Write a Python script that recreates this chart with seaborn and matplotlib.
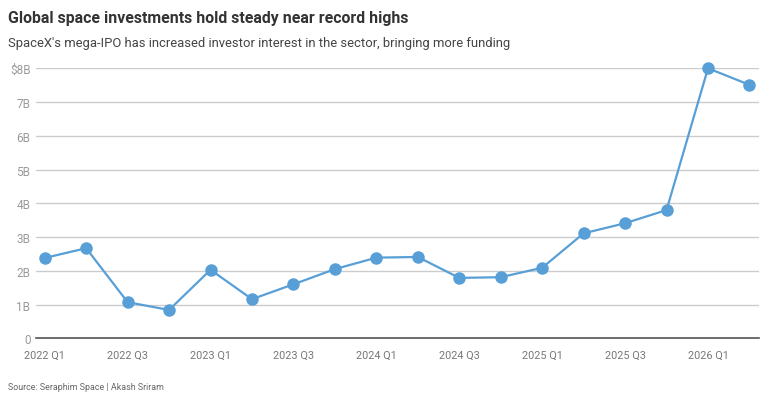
import matplotlib.pyplot as plt
import seaborn as sns
import pandas as pd

quarters = ['2022 Q1', '2022 Q2', '2022 Q3', '2022 Q4',
            '2023 Q1', '2023 Q2', '2023 Q3', '2023 Q4',
            '2024 Q1', '2024 Q2', '2024 Q3', '2024 Q4',
            '2025 Q1', '2025 Q2', '2025 Q3', '2025 Q4',
            '2026 Q1', '2026 Q2']
investment = [2.38, 2.67, 1.07, 0.84, 2.03, 1.16, 1.60, 2.05, 2.39,
              2.41, 1.79, 1.81, 2.09, 3.11, 3.41, 3.80, 8.00, 7.51]
ytick_vals = [0, 1, 2, 3, 4, 5, 6, 7, 8]
ytick_labels = ['0', '1B', '2B', '3B', '4B', '5B', '6B', '7B', '$8B']

df = pd.DataFrame({'pos': range(len(quarters)), 'value': investment})

sns.set_style('white')
plt.rcParams['font.family'] = ['Roboto', 'DejaVu Sans']

fig = plt.figure(figsize=(7.75, 4.06), dpi=100)
ax = fig.add_axes([36/775, 1 - 339.3/406, (759 - 36)/775, (339.3 - 69.3)/406])

sns.lineplot(data=df, x='pos', y='value', ax=ax, color='#579fd6', linewidth=1.6,
             marker='o', markersize=9, markeredgewidth=0, clip_on=False)

ax.set_xlim(-0.21, 17.23)
ax.set_ylim(0, 8)
ax.set_yticks(ytick_vals)
ax.set_yticklabels(ytick_labels)
ax.set_xticks(range(len(quarters)))
ax.set_xticklabels([q if i % 2 == 0 else '' for i, q in enumerate(quarters)])
ax.grid(axis='y', color='#cccccc', linewidth=1.0)
ax.set_axisbelow(True)
for s in ['top', 'right', 'left']:
    ax.spines[s].set_visible(False)
ax.spines['bottom'].set_color('#555555')
ax.spines['bottom'].set_linewidth(1.2)
ax.tick_params(axis='y', length=0, pad=4, labelsize=8.5, labelcolor='#9a9a9a')
ax.tick_params(axis='x', length=5, width=0.8, color='#bbbbbb', pad=3,
               labelsize=7.8, labelcolor='#777777')
ax.set_xlabel('')
ax.set_ylabel('')

fig.text(8/775, 1 - 18/406, 'Global space investments hold steady near record highs',
         fontsize=11.4, fontweight='bold', color='#333333', va='center', ha='left')
fig.text(8/775, 1 - 44/406, "SpaceX's mega-IPO has increased investor interest in the sector, bringing more funding",
         fontsize=9.4, color='#444444', va='center', ha='left')
fig.text(8/775, 1 - 388/406, 'Source: Seraphim Space | Akash Sriram',
         fontsize=6.4, color='#666666', va='center', ha='left')

fig.savefig('out.png', dpi=100)
